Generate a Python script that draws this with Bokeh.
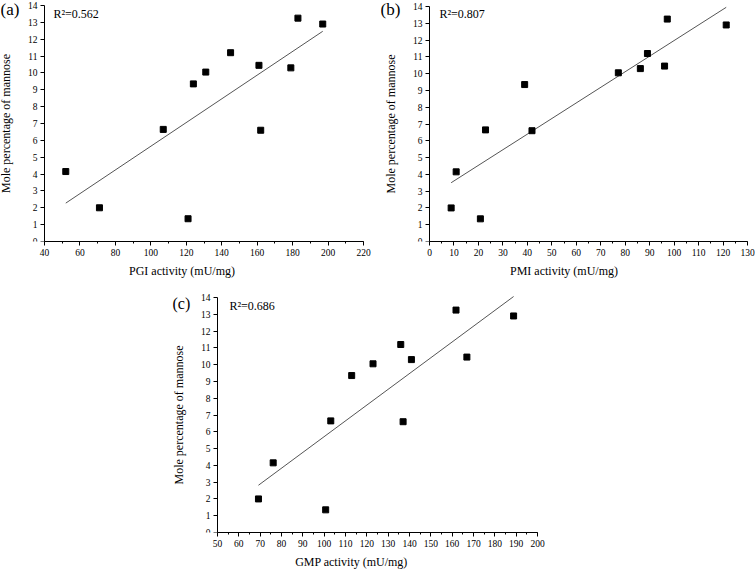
from bokeh.plotting import figure
from bokeh.models import Label, SingleIntervalTicker, Range1d, Spacer
from bokeh.layouts import column, row
from bokeh.embed import file_html
from bokeh.resources import INLINE
import numpy as np

# ---- data ----
mannose = [4.15, 2.0, 6.65, 1.35, 9.35, 10.05, 11.2, 10.45, 6.6, 10.3, 13.25, 12.9]
pgi = [52, 71, 107, 121, 124, 131, 145, 161, 162, 179, 183, 197]
pmi = [10.9, 8.85, 22.9, 20.8, 38.9, 77.2, 89.1, 96.1, 41.9, 86.2, 97.2, 121.3]
gmp = [76.1, 69.2, 103.1, 100.7, 112.9, 122.9, 135.9, 166.9, 137.0, 140.9, 161.8, 188.8]
panel_letters = ["(a)", "(b)", "(c)"]
r2_texts = ["R\u00b2=0.562", "R\u00b2=0.807", "R\u00b2=0.686"]
x_labels = ["PGI activity (mU/mg)", "PMI activity (mU/mg)", "GMP activity (mU/mg)"]
y_label = "Mole percentage of mannose"

FONT = "Liberation Serif"


def make_panel(xs, ys, xlabel, xdom, xint, letter, r2, fw, fh, ox, oy, br, bt, bb,
               letter_dx, letter_dy, letter_size, r2_dx, r2_dy):
    # frame spans fw x fh px; the x axis origin sits ox px right of the frame's left edge,
    # the top of the y axis (14) sits oy px below the frame's top edge
    ppx = (fw - ox) / (xdom[1] - xdom[0])
    ppy = (fh - oy) / 14.0
    x_start = xdom[0] - ox / ppx
    y_end = 14 + oy / ppy
    p = figure(frame_width=fw, frame_height=fh, min_border_left=0, min_border_right=br,
               min_border_top=bt, min_border_bottom=bb, output_backend="svg",
               toolbar_location=None, x_range=Range1d(x_start, xdom[1]),
               y_range=Range1d(0, y_end))
    p.outline_line_color = None
    p.grid.visible = False
    p.background_fill_color = "white"
    p.border_fill_color = "white"

    p.xaxis.ticker = SingleIntervalTicker(interval=xint, num_minor_ticks=2)
    p.yaxis.ticker = SingleIntervalTicker(interval=1, num_minor_ticks=0)
    p.xaxis.bounds = (xdom[0], xdom[1])
    p.yaxis.bounds = (0, 14)
    p.yaxis.fixed_location = xdom[0]
    for ax in (p.xaxis, p.yaxis):
        ax.axis_line_color = "black"
        ax.axis_line_width = 1
        ax.major_tick_line_color = "black"
        ax.major_tick_in = 0
        ax.major_tick_out = 4
        ax.minor_tick_line_color = "black"
        ax.minor_tick_in = 0
        ax.minor_tick_out = 2
        ax.major_label_text_font = FONT
        ax.major_label_text_font_size = "9.5px"
        ax.major_label_text_color = "black"
        ax.major_label_standoff = 3
        ax.axis_label_text_font = FONT
        ax.axis_label_text_font_size = "12px"
        ax.axis_label_text_font_style = "normal"
        ax.axis_label_text_color = "black"
    p.yaxis.minor_tick_line_color = None
    p.xaxis.axis_label = xlabel
    p.yaxis.axis_label = y_label
    p.xaxis.axis_label_standoff = 5
    p.yaxis.axis_label_standoff = 12

    coef = np.polyfit(xs, ys, 1)
    lx = [min(xs), max(xs)]
    ly = list(np.polyval(coef, lx))
    p.line(lx, ly, line_color="#555555", line_width=1)
    p.scatter(xs, ys, marker="square", size=6, fill_color="black", line_color="black")

    p.add_layout(Label(x=xdom[0], y=14, text=letter, x_offset=letter_dx, y_offset=letter_dy,
                       text_font=FONT, text_font_size=letter_size, text_color="black",
                       text_baseline="top", text_align="left"))
    p.add_layout(Label(x=xdom[0], y=14, text=r2, x_offset=r2_dx, y_offset=r2_dy,
                       text_font=FONT, text_font_size="12px", text_color="black",
                       text_baseline="top", text_align="left"))
    return p


pa = make_panel(pgi, mannose, x_labels[0], (40, 220), 20, panel_letters[0], r2_texts[0],
                fw=363, fh=241, ox=44, oy=5, br=17, bt=0, bb=43,
                letter_dx=-44, letter_dy=6, letter_size="17px", r2_dx=9, r2_dy=-1)
pb = make_panel(pmi, mannose, x_labels[1], (0, 130), 10, panel_letters[1], r2_texts[1],
                fw=367, fh=241, ox=49, oy=6, br=8, bt=0, bb=43,
                letter_dx=-49, letter_dy=7, letter_size="17px", r2_dx=10, r2_dy=0)
pc = make_panel(gmp, mannose, x_labels[2], (50, 200), 10, panel_letters[2], r2_texts[2],
                fw=372, fh=243, ox=52, oy=8, br=19, bt=5, bb=38,
                letter_dx=-45, letter_dy=3, letter_size="16px", r2_dx=12, r2_dy=-1)

layout = column(row(pa, pb), row(Spacer(width=165, height=10), pc))
open("out.html", "w").write(file_html(layout, INLINE))
